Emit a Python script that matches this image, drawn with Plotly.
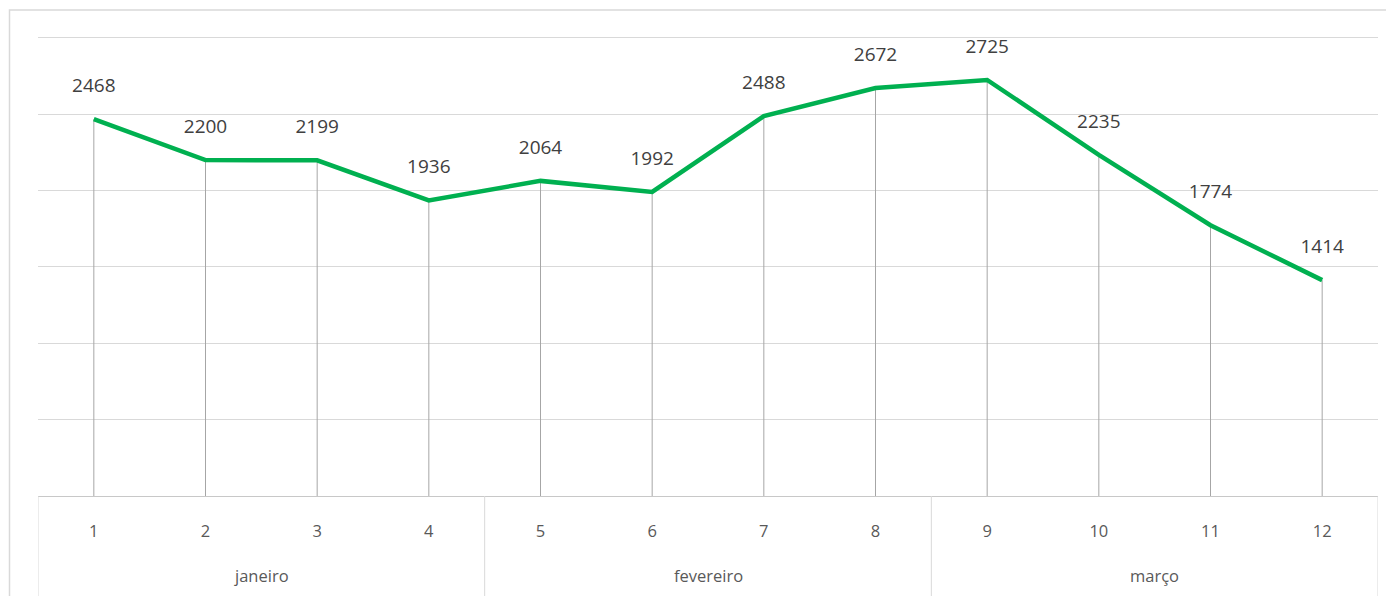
import plotly.graph_objects as go

months = ["janeiro", "fevereiro", "março"]
periods = ["1", "2", "3", "4", "5", "6", "7", "8", "9", "10", "11", "12"]
values = [2468, 2200, 2199, 1936, 2064, 1992, 2488, 2672, 2725, 2235, 1774, 1414]
per_month = 4

# page offset of 8px (body margin) is compensated in the figure size
W, H = 1386, 588
L, R, T, B = 30, 16, 28, 100
pw = W - L - R
ph = H - T - B

fig = go.Figure()

# drop lines from each point to the axis
fig.add_trace(go.Scatter(
    x=periods, y=values, mode="markers",
    marker=dict(size=1, color="rgba(0,0,0,0)"),
    error_y=dict(type="data", symmetric=False, array=[0] * len(values),
                 arrayminus=values, color="#a6a6a6", thickness=1, width=0),
    hoverinfo="skip", showlegend=False,
))

# the green line
fig.add_trace(go.Scatter(
    x=periods, y=values, mode="lines",
    line=dict(color="#00b050", width=4.5),
    showlegend=False,
))

# data labels
fig.add_trace(go.Scatter(
    x=periods, y=values, mode="markers+text",
    marker=dict(size=34, color="rgba(0,0,0,0)"),
    text=[str(v) for v in values], textposition="top center",
    textfont=dict(family="Open Sans", size=19, color="#404040"),
    hoverinfo="skip", showlegend=False,
))

# outer chart frame
fig.add_shape(type="rect", xref="paper", yref="paper",
              x0=-(L - 1.5) / pw, x1=(W + 5 - L) / pw,
              y0=-(B + 5) / ph, y1=(ph + T - 2) / ph,
              line=dict(color="#d9d9d9", width=1.5), layer="below")

# month group dividers and labels
n_groups = len(months)
for g in range(n_groups + 1):
    xb = g * per_month - 0.5
    fig.add_shape(type="line", xref="x", yref="paper",
                  x0=xb, x1=xb, y0=0, y1=-(B + 5) / ph,
                  line=dict(color="#d9d9d9", width=1))
for g, m in enumerate(months):
    fig.add_annotation(x=g * per_month + (per_month - 1) / 2, xref="x",
                       y=-79 / ph, yref="paper", yanchor="middle",
                       text=m, showarrow=False,
                       font=dict(family="Open Sans", size=16.5, color="#595959"))

fig.update_layout(
    width=W, height=H,
    margin=dict(l=L, r=R, t=T, b=B),
    paper_bgcolor="white", plot_bgcolor="white",
    font=dict(family="Open Sans", size=16.5, color="#595959"),
    xaxis=dict(
        type="category", range=[-0.5, len(periods) - 0.5],
        showline=True, linecolor="#c8c8c8", linewidth=1,
        showgrid=False, ticks="", ticklabelstandoff=20,
        tickfont=dict(family="Open Sans", size=16.5, color="#595959"),
    ),
    yaxis=dict(
        range=[0, 3013], dtick=500,
        showticklabels=False, showgrid=True,
        gridcolor="#d9d9d9", gridwidth=1,
        zeroline=False, showline=False,
    ),
)

fig.write_html("out.html")
